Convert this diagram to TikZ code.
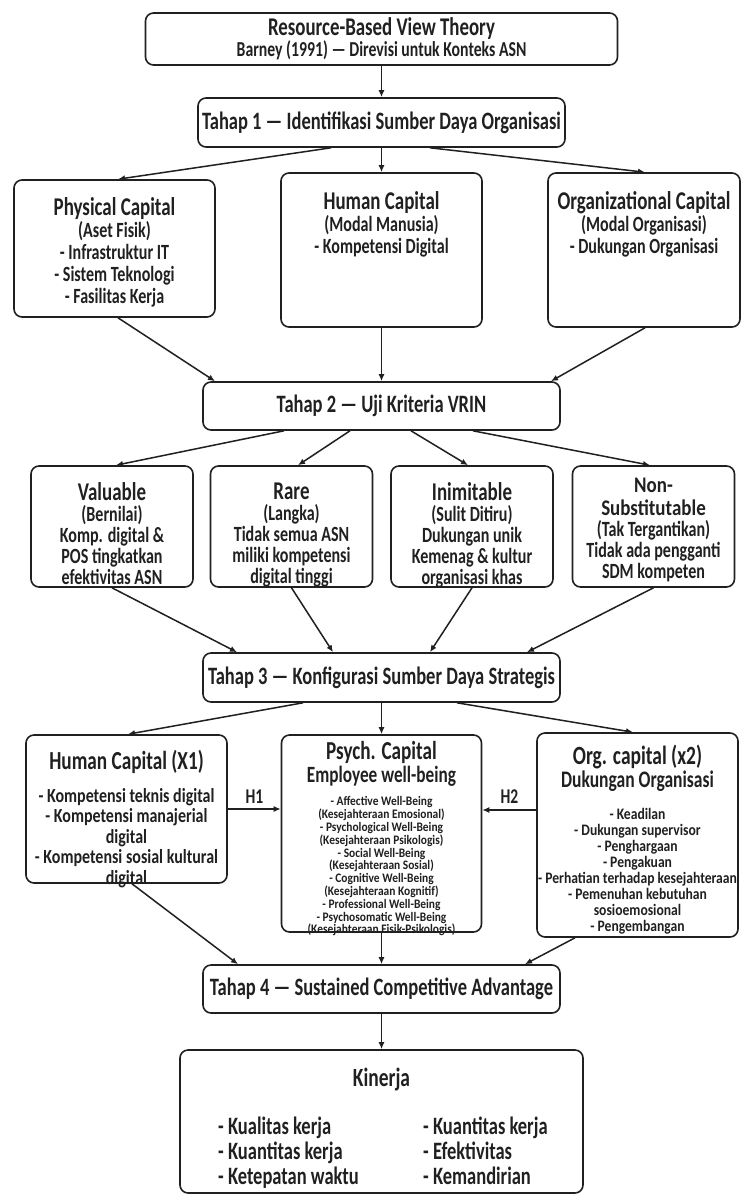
\documentclass[tikz,border=0pt]{standalone}
\usepackage{fontspec}
\setmainfont{Carlito}[FakeStretch=0.74]
\newfontfamily\narrowA{Carlito}[FakeStretch=0.80]
\newfontfamily\narrowB{Carlito}[FakeStretch=0.85]
\newfontfamily\narrowC{Carlito}[FakeStretch=0.88]
\usetikzlibrary{arrows.meta,calc}
\definecolor{ink}{HTML}{202020}
% size, baseline distance; lines are kept at exactly that distance
\newcommand\fsz[2]{\fontsize{#1}{#2}\selectfont\bfseries\lineskiplimit=-\maxdimen\lineskip=0pt}
\begin{document}
\begin{tikzpicture}[x=1pt,y=-1pt,
  box/.style={draw=ink, line width=1.6pt, rounded corners=8pt, fill=white,
              inner sep=0pt, text=ink, align=center},
  arr/.style={draw=ink, line width=1.5pt, -{Latex[length=7pt,width=6pt]}},
  txt/.style={inner sep=0pt, align=center, text=ink},
  stage/.style={box, minimum width=357pt, minimum height=48pt, font=\fsz{25}{22}},
  vrin/.style={box, minimum width=162pt, minimum height=121pt},
  vrintxt/.style={txt, anchor=north, font=\fsz{21.7}{21}},
]
\fill[white] (0,0) rectangle (741,1195);
\path[use as bounding box] (0,0) rectangle (741,1195);

% ---------- theory header and stage 1 ----------
\node[box, minimum width=472pt, minimum height=52pt, font=\fsz{21.3}{21}] (rbv) at (381.5,39)
  {{\fsz{25.5}{21}Resource-Based View Theory}\\Barney (1991) — Direvisi untuk Konteks ASN};
\node[stage, minimum width=367pt, minimum height=49pt] (t1) at (381.5,122.5)
  {Tahap 1 — Identifikasi Sumber Daya Organisasi};

% ---------- resource capitals ----------
\node[box, minimum width=201pt, minimum height=137pt] (phys) at (114.5,248.5) {};
\node[txt, anchor=north, font=\fsz{21.7}{22}] (physT) at (114.5,197.7)
  {{\fsz{25.6}{22}Physical Capital}\\(Aset Fisik)\\- Infrastruktur IT\\- Sistem Teknologi\\- Fasilitas Kerja};

\node[box, minimum width=201pt, minimum height=154pt] (hum) at (381.5,250) {};
\node[txt, anchor=north, font=\fsz{21.7}{22}] (humT) at (381.5,191.7)
  {{\fsz{25.6}{22}Human Capital}\\(Modal Manusia)\\- Kompetensi Digital};

\node[box, minimum width=192pt, minimum height=154pt] (org) at (644,250) {};
\node[txt, anchor=north, font=\fsz{21.7}{22}] (orgT) at (644,191.7)
  {{\fsz{25.6}{22}Organizational Capital}\\(Modal Organisasi)\\- Dukungan Organisasi};

% ---------- stage 2: VRIN ----------
\node[stage] (t2) at (381.5,406) {Tahap 2 — Uji Kriteria VRIN};

\node[vrin] (val) at (112,526.5) {};
\node[vrintxt] (valT) at (112,482.7)
  {{\fsz{25.6}{21}Valuable}\\(Bernilai)\\Komp. digital \&\\POS tingkatkan\\efektivitas ASN};
\node[vrin] (rare) at (291.5,526.5) {};
\node[vrintxt] (rareT) at (291.5,482.7)
  {{\fsz{25.6}{21}Rare}\\(Langka)\\Tidak semua ASN\\miliki kompetensi\\digital tinggi};
\node[vrin] (inim) at (472,526.5) {};
\node[vrintxt] (inimT) at (472,482.7)
  {{\fsz{25.6}{21}Inimitable}\\(Sulit Ditiru)\\Dukungan unik\\Kemenag \& kultur\\organisasi khas};
\node[vrin] (nons) at (653.5,526.5) {};
\node[vrintxt] (nonsT) at (653.5,478)
  {{\narrowB\fsz{22.3}{21}Non-}\\[2pt]{\narrowB\fsz{22.3}{21}Substitutable}\\(Tak Tergantikan)\\Tidak ada pengganti\\SDM kompeten};

% ---------- stage 3 ----------
\node[stage, minimum height=49pt] (t3) at (381.5,677.5) {Tahap 3 — Konfigurasi Sumber Daya Strategis};

\node[box, minimum width=201pt, minimum height=148pt] (x1) at (126.5,809) {};
\node[txt, anchor=north, font=\narrowA\fsz{20}{20.5}] (x1T) at (126.5,749.6)
  {{\rmfamily\fsz{26}{20.5}Human Capital (X1)}\\[12.5pt]- Kompetensi teknis digital\\- Kompetensi manajerial\\digital\\- Kompetensi sosial kultural\\digital};

\node[box, minimum width=200pt, minimum height=197pt] (psy) at (381.5,833.5) {};
\node[txt, anchor=north, font=\narrowC\fsz{13}{12.8}] (psyT) at (381.5,741.6)
  {{\rmfamily\fsz{25.9}{12.8}Psych. Capital}\\[10.2pt]{\rmfamily\fsz{23.3}{12.8}Employee well-being}\\[10.2pt]
   - Affective Well-Being\\(Kesejahteraan Emosional)\\- Psychological Well-Being\\(Kesejahteraan Psikologis)\\
   - Social Well-Being\\(Kesejahteraan Sosial)\\- Cognitive Well-Being\\(Kesejahteraan Kognitif)\\
   - Professional Well-Being\\- Psychosomatic Well-Being\\(Kesejahteraan Fisik-Psikologis)};

\node[box, minimum width=201pt, minimum height=204pt] (orgc) at (637.5,835) {};
\node[txt, anchor=north, font=\narrowB\fsz{16}{16.1}] (orgcT) at (637.5,744.5)
  {{\rmfamily\fsz{26.3}{16.1}Org. capital (x2)}\\[6.9pt]{\rmfamily\fsz{23.7}{16.1}Dukungan Organisasi}\\[15.9pt]
   - Keadilan\\- Dukungan supervisor\\- Penghargaan\\- Pengakuan\\- Perhatian terhadap kesejahteraan\\
   - Pemenuhan kebutuhan\\sosioemosional\\- Pengembangan};

% ---------- stage 4 and outcome ----------
\node[stage] (t4) at (381.5,989) {Tahap 4 — Sustained Competitive Advantage};

\node[box, minimum width=403pt, minimum height=143pt] (kin) at (381.5,1121.5) {};
\node[txt, anchor=north, font=\fsz{26.3}{24}] (kinT) at (381.5,1067.5) {Kinerja};
\node[txt, anchor=north west, align=left, font=\fsz{25}{25}] (kinL) at (218,1117)
  {- Kualitas kerja\\- Kuantitas kerja\\- Ketepatan waktu};
\node[txt, anchor=north west, align=left, font=\fsz{25}{25}] (kinR) at (423,1117)
  {- Kuantitas kerja\\- Efektivitas\\- Kemandirian};

% ---------- connectors ----------
\draw[arr] (rbv.south) -- (t1.north);
\draw[arr] ([xshift=-50.5pt]t1.south) -- ([xshift=3.5pt]phys.north);
\draw[arr] (t1.south) -- (hum.north);
\draw[arr] ([xshift=48.5pt]t1.south) -- ([xshift=1pt]org.north);

\draw[arr] ([xshift=3.5pt]phys.south) -- ([xshift=-166.5pt]t2.north);
\draw[arr] (hum.south) -- (t2.north);
\draw[arr] ([xshift=1pt]org.south) -- ([xshift=169.5pt]t2.north);

\draw[arr] ([xshift=-97.5pt]t2.south) -- ([xshift=4pt]val.north);
\draw[arr] ([xshift=-31.5pt]t2.south) -- ([xshift=6.5pt]rare.north);
\draw[arr] ([xshift=29.5pt]t2.south) -- ([xshift=-4pt]inim.north);
\draw[arr] ([xshift=91.5pt]t2.south) -- ([xshift=-3.5pt]nons.north);

\draw[arr] (val.south) -- ([xshift=-144.5pt]t3.north);
\draw[arr] (rare.south) -- ([xshift=-48.5pt]t3.north);
\draw[arr] (inim.south) -- ([xshift=48.5pt]t3.north);
\draw[arr] (nons.south) -- ([xshift=145.5pt]t3.north);

\draw[arr] ([xshift=-78.5pt]t3.south) -- ([xshift=1.5pt]x1.north);
\draw[arr] (t3.south) -- (psy.north);
\draw[arr] ([xshift=75.5pt]t3.south) -- ([xshift=-4.5pt]orgc.north);

\draw[arr] (x1.east) -- (x1.east -| psy.west);
\node[txt, font=\fsz{21}{18}] (h1) at (254.5,797) {H1};
\coordinate (h2s) at ($(orgc.west)+(0,-25)$);
\draw[arr] (h2s) -- (h2s -| psy.east);
\node[txt, font=\fsz{21}{18}] (h2) at (509.5,797) {H2};

\draw[arr] ([xshift=5.5pt]x1.south) -- ([xshift=-143.5pt]t4.north);
\draw[arr] (psy.south) -- (t4.north);
\draw[arr] ([xshift=-62.5pt]orgc.south) -- ([xshift=143.5pt]t4.north);

\draw[arr] (t4.south) -- (kin.north);
\end{tikzpicture}
\end{document}
